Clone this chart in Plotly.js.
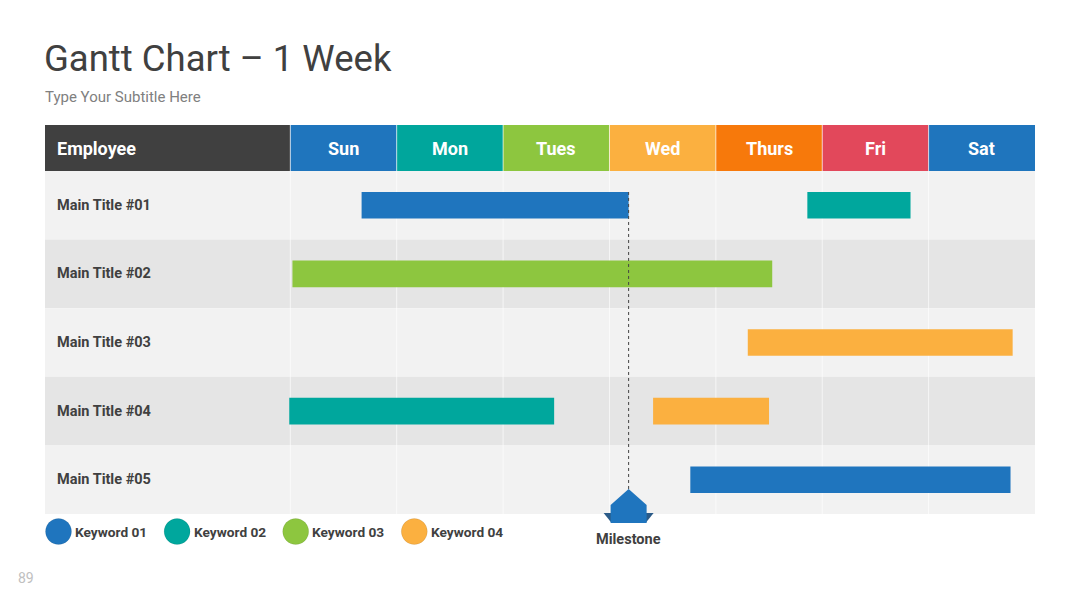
<!DOCTYPE html>
<html>
<head>
<meta charset="utf-8">
<script src="https://cdn.plot.ly/plotly-3.0.1.min.js"></script>
<style>html,body{margin:0;padding:0;background:#fff;}#chart{width:1080px;height:608px;}</style>
</head>
<body>
<div id="chart"></div>
<script>
// ---- data ----
const days = ["Sun", "Mon", "Tues", "Wed", "Thurs", "Fri", "Sat"];
const dayColors = ["#1f75bd", "#00a69c", "#8dc63f", "#fbb040", "#f7790b", "#e2485b", "#1f75bd"];
const employees = ["Main Title #01", "Main Title #02", "Main Title #03", "Main Title #04", "Main Title #05"];
const keywords = ["Keyword 01", "Keyword 02", "Keyword 03", "Keyword 04"];
const keywordColors = ["#1f75be", "#00a79d", "#8dc63f", "#fbb040"];
const taskRow = [1, 1, 2, 3, 4, 4, 5];
const taskStart = [0.67, 4.86, 0.02, 4.30, -0.01, 3.41, 3.76];
const taskEnd = [3.18, 5.83, 4.53, 6.79, 2.48, 4.50, 6.77];
const taskKeyword = [0, 1, 2, 3, 1, 3, 0];
const milestoneDay = 3.18;
const milestoneLabel = "Milestone";
const chartTitle = "Gantt Chart \u2013 1 Week";
const chartSubtitle = "Type Your Subtitle Here";
const headerLabel = "Employee";
const pageNumber = "89";

// ---- layout geometry ----
const W = 1080, H = 608;
const L = 45, R = 1035, T = 125, B = 514;
const xMin = -2.306, xMax = days.length;
const headerTop = -0.1706;
const barWidth = 0.388;
const px = v => (v - L) / (R - L);
const py = v => (B - v) / (B - T);
const FONT = "Roboto, 'Open Sans', sans-serif";

// ---- bar traces (one per keyword) ----
const traces = keywords.map((k, ki) => {
  const idx = taskKeyword.map((t, i) => t === ki ? i : -1).filter(i => i >= 0);
  return {
    type: "bar", orientation: "h", name: k, showlegend: false,
    y: idx.map(i => taskRow[i]),
    base: idx.map(i => taskStart[i]),
    x: idx.map(i => taskEnd[i] - taskStart[i]),
    width: idx.map(() => barWidth),
    marker: {color: keywordColors[ki], line: {width: 0}},
    hoverinfo: "skip"
  };
});

// ---- shapes ----
const shapes = [];
employees.forEach((e, i) => {
  shapes.push({type: "rect", layer: "below", xref: "x", yref: "y",
    x0: xMin, x1: xMax, y0: i + 0.5, y1: i + 1.5,
    fillcolor: i % 2 === 0 ? "#f2f2f2" : "#e5e5e5", line: {width: 0}});
});
shapes.push({type: "rect", layer: "below", xref: "x", yref: "y",
  x0: xMin, x1: 0, y0: headerTop, y1: 0.5, fillcolor: "#404040", line: {width: 0}});
days.forEach((d, i) => {
  shapes.push({type: "rect", layer: "below", xref: "x", yref: "y",
    x0: i, x1: i + 1, y0: headerTop, y1: 0.5, fillcolor: dayColors[i], line: {width: 0}});
});
for (let i = 0; i < days.length; i++) {
  shapes.push({type: "line", layer: "below", xref: "x", yref: "y",
    x0: i, x1: i, y0: headerTop, y1: employees.length + 0.5,
    line: {color: "rgba(255,255,255,0.65)", width: 1}});
}
// milestone dotted line
shapes.push({type: "line", layer: "above", xref: "x", yref: "y",
  x0: milestoneDay, x1: milestoneDay, y0: 1 - barWidth / 2, y1: employees.length + 0.5,
  line: {color: "#444", width: 1, dash: "dot"}});
// milestone marker: wings then body (pixel units relative to anchor)
shapes.push({type: "path", layer: "above", xref: "x", yref: "paper",
  xsizemode: "pixel", ysizemode: "pixel", xanchor: milestoneDay, yanchor: 0,
  path: "M -25,1 L 25,1 L 17,-9 L -17,-9 Z",
  fillcolor: "#2b5b88", line: {width: 0}});
shapes.push({type: "path", layer: "above", xref: "x", yref: "paper",
  xsizemode: "pixel", ysizemode: "pixel", xanchor: milestoneDay, yanchor: 0,
  path: "M -18,-9 L -18,9 L 0,25 L 18,9 L 18,-9 Z",
  fillcolor: "#1f75be", line: {width: 0}});
// legend circles
const legendX0 = 58.5, legendStep = 118.6, legendY = 531.5, legendR = 13;
keywords.forEach((k, i) => {
  const cx = legendX0 + i * legendStep;
  shapes.push({type: "circle", layer: "above", xref: "paper", yref: "paper",
    x0: px(cx - legendR), x1: px(cx + legendR), y0: py(legendY + legendR), y1: py(legendY - legendR),
    fillcolor: keywordColors[i], line: {color: "rgba(0,0,0,0.08)", width: 1}});
});

// ---- annotations ----
const annotations = [];
annotations.push({xref: "paper", yref: "paper", x: px(43), y: py(97), xanchor: "left", yanchor: "middle",
  text: chartSubtitle, showarrow: false, font: {family: FONT, size: 15, color: "#808080"}});
annotations.push({xref: "paper", yref: "y", x: px(54.5), y: (headerTop + 0.5) / 2, xanchor: "left", yanchor: "middle",
  text: headerLabel, showarrow: false, font: {family: FONT, size: 18, color: "#ffffff", weight: 700}});
days.forEach((d, i) => {
  annotations.push({xref: "x", yref: "y", x: i + 0.5, y: (headerTop + 0.5) / 2, xanchor: "center", yanchor: "middle",
    text: d, showarrow: false, font: {family: FONT, size: 18, color: "#ffffff", weight: 700}});
});
employees.forEach((e, i) => {
  annotations.push({xref: "paper", yref: "y", x: px(55), y: i + 1, xanchor: "left", yanchor: "middle",
    text: e, showarrow: false, font: {family: FONT, size: 14.5, color: "#404040", weight: 700}});
});
keywords.forEach((k, i) => {
  const cx = legendX0 + i * legendStep;
  annotations.push({xref: "paper", yref: "paper", x: px(cx + 14.5), y: py(legendY), xanchor: "left", yanchor: "middle",
    text: k, showarrow: false, font: {family: FONT, size: 13.7, color: "#404040", weight: 700}});
});
annotations.push({xref: "x", yref: "paper", x: milestoneDay, y: py(539), xanchor: "center", yanchor: "middle",
  text: milestoneLabel, showarrow: false, font: {family: FONT, size: 14.5, color: "#404040", weight: 700}});
annotations.push({xref: "paper", yref: "paper", x: px(16), y: py(578), xanchor: "left", yanchor: "middle",
  text: pageNumber, showarrow: false, font: {family: FONT, size: 14, color: "#c0c0c0"}});

const layout = {
  width: W, height: H,
  margin: {l: L, r: W - R, t: T, b: H - B, pad: 0},
  paper_bgcolor: "#ffffff", plot_bgcolor: "#ffffff",
  title: {text: chartTitle, x: (L - 1) / W, xanchor: "left", xref: "container",
    y: 1 - 58 / H, yanchor: "middle", yref: "container",
    font: {family: FONT, size: 36.5, color: "#404040"}},
  barmode: "overlay",
  showlegend: false,
  xaxis: {range: [xMin, xMax], visible: false, fixedrange: true},
  yaxis: {range: [employees.length + 0.5, headerTop], visible: false, fixedrange: true},
  shapes: shapes,
  annotations: annotations
};

Plotly.newPlot("chart", traces, layout, {staticPlot: true, displayModeBar: false});
</script>
</body>
</html>
